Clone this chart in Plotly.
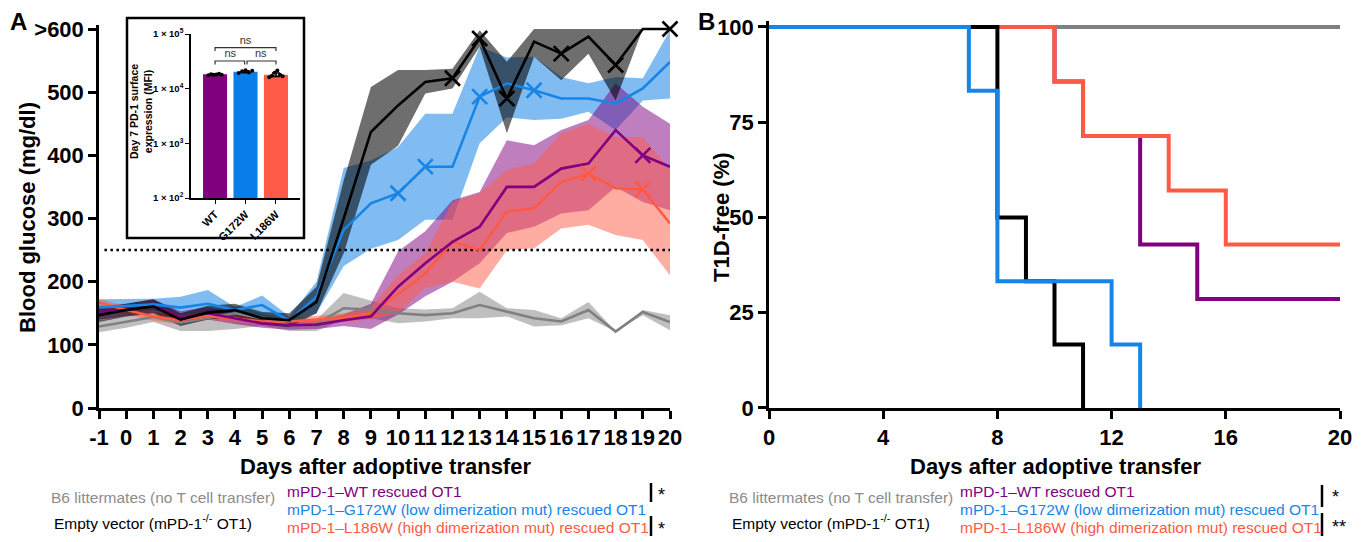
import numpy as np
import plotly.graph_objects as go

# The page places the figure 8px from the top-left corner (body margin),
# so the figure is sized to fill the rest of the 1367x542 window.
OFF = 8
W, H = 1367 - OFF, 542 - OFF

# ---------------- Panel A data (blood glucose, mg/dl) ----------------
days = list(range(-1, 21))
day_labels = [str(d) for d in days]

b6_mean = [129, 137, 144, 135, 143, 150, 142, 131, 133, 158, 156, 150, 147, 150, 163, 152, 142, 137, 155, 121, 152, 136]
b6_hi   = [138, 145, 152, 145, 155, 162, 150, 140, 140, 182, 170, 158, 156, 158, 184, 158, 155, 142, 168, 121, 155, 147]
b6_lo   = [120, 127, 136, 122, 122, 125, 130, 122, 122, 140, 142, 134, 137, 142, 142, 145, 129, 131, 142, 121, 147, 123]

ev_mean = [147, 155, 161, 140, 151, 155, 142, 139, 168, 300, 437, 479, 516, 522, 585, 490, 580, 561, 588, 543, 600, 600]
ev_hi   = [158, 165, 172, 150, 162, 165, 152, 150, 192, 360, 508, 535, 535, 537, 598, 548, 600, 600, 600, 600, 600, 600]
ev_lo   = [136, 145, 150, 130, 140, 145, 132, 128, 150, 245, 385, 415, 498, 506, 572, 435, 556, 519, 561, 487, 600, 600]

g172w_mean = [159, 161, 164, 159, 165, 155, 163, 138, 176, 282, 324, 340, 382, 382, 493, 514, 503, 490, 490, 482, 506, 548]
g172w_hi   = [172, 172, 173, 176, 187, 160, 178, 145, 200, 380, 392, 413, 466, 466, 572, 555, 556, 524, 514, 524, 522, 598]
g172w_lo   = [150, 152, 155, 147, 152, 150, 145, 134, 150, 225, 252, 266, 298, 298, 419, 460, 456, 458, 469, 440, 487, 490]

wt_mean = [152, 155, 163, 143, 150, 142, 134, 131, 132, 139, 145, 192, 229, 263, 287, 350, 350, 379, 387, 440, 400, 382]
wt_hi   = [162, 165, 172, 153, 160, 152, 142, 138, 140, 148, 165, 248, 280, 329, 342, 424, 416, 440, 456, 514, 477, 450]
wt_lo   = [140, 145, 152, 133, 140, 133, 127, 124, 125, 130, 125, 148, 177, 200, 229, 277, 287, 308, 313, 350, 326, 313]

l186w_mean = [167, 155, 145, 139, 146, 142, 137, 137, 140, 143, 150, 180, 213, 263, 250, 311, 316, 358, 371, 348, 346, 292]
l186w_hi   = [172, 162, 152, 146, 152, 148, 142, 142, 146, 150, 160, 210, 245, 326, 340, 377, 387, 435, 450, 429, 429, 377]
l186w_lo   = [160, 148, 138, 132, 140, 136, 132, 132, 134, 136, 140, 150, 190, 200, 189, 250, 253, 284, 290, 274, 266, 210]

# days carrying an "x" marker
ev_x_days = [12, 13, 14, 16, 18, 20]
g172w_x_days = [10, 11, 13, 15]
wt_x_days = [19]
l186w_x_days = [17, 19]

threshold = 250
glucose_ticks = [0, 100, 200, 300, 400, 500, 600]
glucose_ticktext = ["0", "100", "200", "300", "400", "500", ">600"]

# ---------------- Inset data (Day 7 PD-1 MFI) ----------------
inset_groups = ["WT", "G172W", "L186W"]
inset_means = [18300, 20400, 18000]
inset_sem = [350, 900, 1300]
inset_pts = [
    [17600, 18400, 18000, 18100, 18700, 17900],
    [19300, 20800, 21800, 19800, 21200],
    [16200, 17300, 19600, 21400, 17900, 16800],
]
inset_ticks = [100, 1000, 10000, 100000]
inset_ticktext = ["1 × 10<sup>2</sup>", "1 × 10<sup>3</sup>", "1 × 10<sup>4</sup>", "1 × 10<sup>5</sup>"]
ns_outer = [48900, 56100]   # leg end, bar level
ns_inner = [27700, 32100]

# ---------------- Panel B data (Kaplan-Meier, % T1D-free) ----------------
km_b6_t, km_b6_s = [0, 20], [100, 100]
km_ev_t, km_ev_s = [0, 8, 9, 10, 11], [100, 50, 33.3, 16.7, 0]
km_g_t, km_g_s = [0, 7, 8, 12, 13], [100, 83.3, 33.3, 16.7, 0]
km_wt_t, km_wt_s = [0, 10, 11, 13, 15, 20], [100, 85.7, 71.4, 42.9, 28.6, 28.6]
km_l_t, km_l_s = [0, 10, 11, 14, 16, 20], [100, 85.7, 71.4, 57.1, 42.9, 42.9]

# ---------------- styling ----------------
C_GRAY, C_BLACK = "#808080", "#000000"
C_BLUE, C_PURPLE, C_RED = "#1785E6", "#800080", "#FF5A45"
BAND = {
    "gray": "rgba(128,128,128,0.5)",
    "black": "rgba(0,0,0,0.57)",
    "blue": "rgba(23,133,230,0.55)",
    "purple": "rgba(128,0,128,0.5)",
    "red": "rgba(255,90,69,0.5)",
}
FONT = "Liberation Sans, Arial, Helvetica, sans-serif"


def px(x):
    return (x - OFF) / W


def py(y):
    return (H - (y - OFF)) / H


fig = go.Figure()


def band(lo, hi, color):
    fig.add_trace(go.Scatter(x=days + days[::-1], y=hi + lo[::-1], fill="toself",
                             fillcolor=color, line=dict(width=0), mode="lines",
                             hoverinfo="skip", xaxis="x", yaxis="y"))


band(b6_lo, b6_hi, BAND["gray"])
band(g172w_lo, g172w_hi, BAND["blue"])
band(wt_lo, wt_hi, BAND["purple"])
band(l186w_lo, l186w_hi, BAND["red"])
band(ev_lo, ev_hi, BAND["black"])

# threshold line
fig.add_trace(go.Scatter(x=[days[0] + 0.2, days[-1]], y=[threshold, threshold], mode="lines",
                         line=dict(color="black", width=2.5, dash="2.5px,3.5px"),
                         xaxis="x", yaxis="y"))

for mean, col in [(b6_mean, C_GRAY), (l186w_mean, C_RED), (wt_mean, C_PURPLE),
                  (g172w_mean, C_BLUE), (ev_mean, C_BLACK)]:
    fig.add_trace(go.Scatter(x=days, y=mean, mode="lines", line=dict(color=col, width=2.6),
                             xaxis="x", yaxis="y"))

for mean, xd, col in [(l186w_mean, l186w_x_days, C_RED), (wt_mean, wt_x_days, C_PURPLE),
                      (g172w_mean, g172w_x_days, C_BLUE), (ev_mean, ev_x_days, C_BLACK)]:
    yy = [mean[days.index(d)] for d in xd]
    fig.add_trace(go.Scatter(x=xd, y=yy, mode="markers", cliponaxis=False,
                             marker=dict(symbol="x-thin", size=15, line=dict(color=col, width=2.6)),
                             xaxis="x", yaxis="y"))

# ---------------- inset ----------------
fig.add_trace(go.Bar(x=[0, 1, 2], y=inset_means, marker=dict(color=[C_PURPLE, "#0A7EE8", C_RED],
                     line=dict(width=0)), width=0.79,
                     error_y=dict(type="data", array=inset_sem, color="black", thickness=1.5, width=4),
                     xaxis="x3", yaxis="y3"))
for gi, pts in enumerate(inset_pts):
    offs = np.linspace(-0.22, 0.22, len(pts))
    fig.add_trace(go.Scatter(x=list(gi + offs), y=pts, mode="markers",
                             marker=dict(color="black", size=4), xaxis="x3", yaxis="y3"))
# significance brackets
for xa, xb, lv in [(0, 2, ns_outer), (0, 0.97, ns_inner), (1.05, 2, ns_inner)]:
    fig.add_trace(go.Scatter(x=[xa, xa, xb, xb], y=[lv[0], lv[1], lv[1], lv[0]], mode="lines",
                             line=dict(color="#333333", width=1.2), cliponaxis=False,
                             xaxis="x3", yaxis="y3"))
for xt, lv in [(1, ns_outer), (0.5, ns_inner), (1.5, ns_inner)]:
    fig.add_trace(go.Scatter(x=[xt], y=[lv[1] * 1.33], mode="text", text=["ns"], cliponaxis=False,
                             textfont=dict(size=11, color="#333333", family=FONT),
                             xaxis="x3", yaxis="y3"))

# ---------------- Panel B ----------------
for t, s, col in [(km_wt_t, km_wt_s, C_PURPLE), (km_b6_t, km_b6_s, C_GRAY),
                  (km_l_t, km_l_s, C_RED), (km_ev_t, km_ev_s, C_BLACK),
                  (km_g_t, km_g_s, C_BLUE)]:
    fig.add_trace(go.Scatter(x=t, y=s, mode="lines", line=dict(color=col, width=4, shape="hv"),
                             xaxis="x2", yaxis="y2"))

axis_common = dict(showline=True, linewidth=2.5, linecolor="black", ticks="outside", ticklen=8,
                   tickwidth=2.5, tickcolor="black", showgrid=False, zeroline=False,
                   automargin=False, tickangle=0,
                   tickfont=dict(size=22, family=FONT, color="black", weight="bold"))
inset_common = dict(showline=True, linewidth=1.5, linecolor="black", ticks="outside", ticklen=4,
                    tickwidth=1.2, tickcolor="black", showgrid=False, zeroline=False,
                    automargin=False)

yA0, yA1 = 408, 29
yA_top = yA0 - (yA0 - yA1) * 606 / 600
yB0, yB1 = 408, 27
yB_top = yB0 - (yB0 - yB1) * 101.5 / 100

fig.update_layout(
    template="none",
    width=W, height=H, margin=dict(l=0, r=0, t=0, b=0, pad=0, autoexpand=False),
    paper_bgcolor="white", plot_bgcolor="white", showlegend=False,
    font=dict(family=FONT, color="black"),
    xaxis=dict(domain=[px(99), px(670)], range=[-1, 20], tickvals=days, ticktext=day_labels,
               anchor="y", **axis_common),
    yaxis=dict(domain=[py(yA0), py(yA_top)], range=[0, 606], tickvals=glucose_ticks,
               ticktext=glucose_ticktext, anchor="x", **axis_common),
    xaxis2=dict(domain=[px(769), px(1340)], range=[0, 20], tickvals=[0, 4, 8, 12, 16, 20],
                anchor="y2", **axis_common),
    yaxis2=dict(domain=[py(yB0), py(yB_top)], range=[0, 101.5], tickvals=[0, 25, 50, 75, 100],
                anchor="x2", **axis_common),
    xaxis3=dict(domain=[px(191), px(300)], range=[-0.79, 2.79], tickvals=[0, 1, 2],
                ticktext=inset_groups, tickangle=-45, anchor="y3",
                tickfont=dict(size=11, family=FONT, color="black", weight="bold"), **inset_common),
    yaxis3=dict(domain=[py(198), py(34)], type="log", range=[2, 5], tickvals=inset_ticks,
                ticktext=inset_ticktext, anchor="x3",
                tickfont=dict(size=9.5, family=FONT, color="black", weight="bold"), **inset_common),
)

shapes = [
    dict(type="rect", xref="paper", yref="paper", x0=px(127), x1=px(304), y0=py(238), y1=py(18),
         line=dict(color="black", width=2.5), layer="above"),
    # significance bars in legends
    dict(type="line", xref="paper", yref="paper", x0=px(651), x1=px(651), y0=py(502), y1=py(483),
         line=dict(color="black", width=2.5)),
    dict(type="line", xref="paper", yref="paper", x0=px(651), x1=px(651), y0=py(536), y1=py(516),
         line=dict(color="black", width=2.5)),
    dict(type="line", xref="paper", yref="paper", x0=px(1322), x1=px(1322), y0=py(507), y1=py(485),
         line=dict(color="black", width=2.5)),
    dict(type="line", xref="paper", yref="paper", x0=px(1322), x1=px(1322), y0=py(536), y1=py(513),
         line=dict(color="black", width=2.5)),
]
fig.update_layout(shapes=shapes)


def ann(x, y, text, size, color="black", bold=False, xanchor="center", angle=0):
    fig.add_annotation(x=px(x), y=py(y), xref="paper", yref="paper", text=text, showarrow=False,
                       xanchor=xanchor, yanchor="middle", textangle=angle,
                       font=dict(size=size, color=color, family=FONT,
                                 weight="bold" if bold else "normal"))


ann(18, 22, "A", 24, bold=True)
ann(706, 22, "B", 24, bold=True)
ann(385, 466, "Days after adoptive transfer", 22, bold=True)
ann(1055, 466, "Days after adoptive transfer", 22, bold=True)
ann(28, 218, "Blood glucose (mg/dl)", 22, bold=True, angle=-90)
ann(722, 217, "T1D-free (%)", 22, bold=True, angle=-90)
ann(141, 112, "Day 7 PD-1 surface<br>expression (MFI)", 10.5, bold=True, angle=-90)

LEG = 15.5
for x0, xr, xbar in [(49, 285, 651), (727, 958, 1322)]:
    ann(x0, 497, "B6 littermates (no T cell transfer)", LEG, color="#8C8C8C", xanchor="left")
    ann(x0 + 3, 522, "Empty vector (mPD-1<sup>-/-</sup> OT1)", LEG, color="black", xanchor="left")
    ann(xr, 491, "mPD-1–WT rescued OT1", LEG, color=C_PURPLE, xanchor="left")
    ann(xr, 509, "mPD-1–G172W (low dimerization mut) rescued OT1", LEG, color=C_BLUE, xanchor="left")
    ann(xr, 527, "mPD-1–L186W (high dimerization mut) rescued OT1", LEG, color=C_RED, xanchor="left")

ann(656, 495, "*", 18, xanchor="left")
ann(656, 529, "*", 18, xanchor="left")
ann(1330, 497, "*", 18, xanchor="left")
ann(1330, 527, "**", 18, xanchor="left")

fig.write_html("out.html")
